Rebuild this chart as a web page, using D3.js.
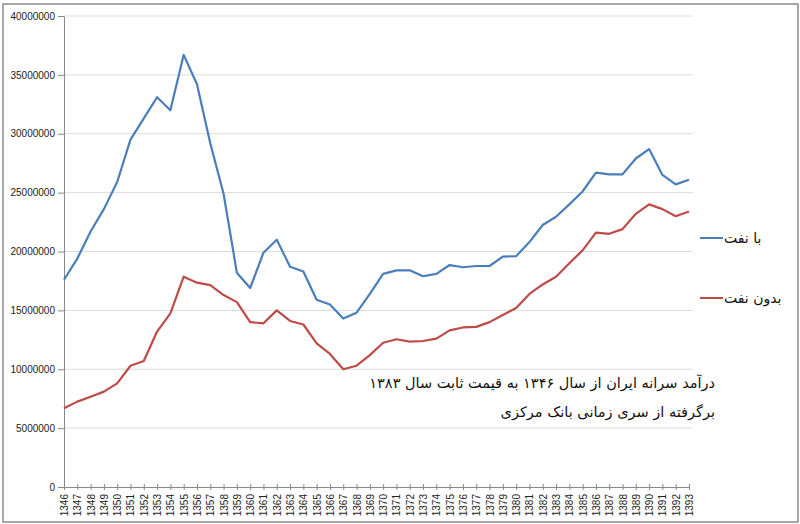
<!DOCTYPE html>
<html>
<head>
<meta charset="utf-8">
<script src="https://cdn.jsdelivr.net/npm/d3@7"></script>
<style>
    body { margin: 0; background: #fff; }
    #chart { width: 800px; height: 524px; }
    .axis text { font-family: "Liberation Sans", Arial, sans-serif; font-size: 10px; fill: #222; }
    .axis path, .axis line { stroke: #888; }
    .grid line { stroke: #dcdcdc; }
    .fa { font-family: "DejaVu Sans", sans-serif; fill: #111; }
</style>
</head>
<body>
<div id="chart"></div>
<script>

// years (solar hijri) on the x axis
let years = d3.range(1346, 1394).map(String);

// per capita income, with oil
let withOil = [
    17600000, 19400000, 21700000, 23600000, 25900000, 29500000, 31300000, 33100000, 32000000, 36700000,
    34200000, 29200000, 24900000, 18200000, 16900000, 19900000, 21000000, 18700000, 18300000, 15900000,
    15500000, 14300000, 14800000, 16400000, 18100000, 18400000, 18400000, 17900000, 18100000, 18850000,
    18660000, 18770000, 18770000, 19560000, 19600000, 20800000, 22250000, 22950000, 24000000, 25100000,
    26700000, 26550000, 26550000, 27900000, 28700000, 26500000, 25700000, 26100000
];

// per capita income, without oil
let withoutOil = [
    6680000, 7250000, 7670000, 8100000, 8800000, 10300000, 10700000, 13200000, 14750000, 17860000,
    17350000, 17150000, 16300000, 15700000, 14000000, 13900000, 15000000, 14100000, 13800000, 12200000,
    11300000, 10000000, 10300000, 11200000, 12250000, 12550000, 12350000, 12400000, 12600000, 13300000,
    13550000, 13600000, 14000000, 14600000, 15200000, 16400000, 17200000, 17860000, 19000000, 20100000,
    21600000, 21500000, 21900000, 23200000, 24000000, 23600000, 23000000, 23400000
];

let yTicks = [0, 5000000, 10000000, 15000000, 20000000, 25000000, 30000000, 35000000, 40000000];

let seriesNames = ["با نفت", "بدون نفت"];
let seriesColors = ["#4a7ebb", "#be4b48"];

let noteLines = [
    "درآمد سرانه ایران از سال ۱۳۴۶ به قیمت ثابت سال ۱۳۸۳",
    "برگرفته از سری زمانی بانک مرکزی"
];

let margin = {top: 16, right: 111, bottom: 37, left: 64};
let width = 800 - margin.left - margin.right;
let height = 524 - margin.top - margin.bottom;

let root = d3.select("#chart").append("svg")
    .attr("width", 800)
    .attr("height", 524);

// outer frame
root.append("rect")
    .attr("x", 3).attr("y", 4)
    .attr("width", 795).attr("height", 518)
    .attr("fill", "#fff")
    .attr("stroke", "#8c8c8c")
    .attr("stroke-width", 1.5);

let svg = root.append("g")
    .attr("transform", `translate(${margin.left}, ${margin.top})`);

let x = d3.scalePoint()
    .domain(years)
    .range([0, width]);

let y = d3.scaleLinear()
    .domain([0, 40000000])
    .range([height, 0]);

// horizontal gridlines
svg.append("g")
    .attr("class", "grid")
    .selectAll("line")
    .data(yTicks.slice(1))
    .join("line")
    .attr("x1", 0)
    .attr("x2", width + 4)
    .attr("y1", d => y(d))
    .attr("y2", d => y(d));

// y axis
let yAxis = d3.axisLeft(y)
    .tickValues(yTicks)
    .tickFormat(d3.format("d"))
    .tickSize(6)
    .tickSizeOuter(0)
    .tickPadding(3);

svg.append("g")
    .attr("class", "y-axis axis")
    .call(yAxis);

// x axis, cross ticks
let xAxis = d3.axisBottom(x)
    .tickSize(3)
    .tickSizeOuter(0)
    .tickPadding(4);

let xg = svg.append("g")
    .attr("class", "x-axis axis")
    .attr("transform", `translate(0, ${height})`)
    .call(xAxis);

xg.selectAll(".tick line").attr("y1", -3);

xg.selectAll(".tick text")
    .attr("transform", "rotate(-90)")
    .attr("x", -7)
    .attr("y", 0)
    .attr("dy", "0.35em")
    .attr("text-anchor", "end");

// lines
let line = d3.line()
    .x((d, i) => x(years[i]))
    .y(d => y(d));

[withOil, withoutOil].forEach((values, k) => {
    svg.append("path")
        .datum(values)
        .attr("fill", "none")
        .attr("stroke", seriesColors[k])
        .attr("stroke-width", 2.2)
        .attr("stroke-linejoin", "round")
        .attr("d", line);
});

// legend
let legend = root.append("g")
    .selectAll("g")
    .data(seriesNames)
    .join("g")
    .attr("transform", (d, i) => `translate(700, ${238 + i * 60})`);

legend.append("line")
    .attr("x1", 0).attr("x2", 23)
    .attr("stroke", (d, i) => seriesColors[i])
    .attr("stroke-width", 2);

legend.append("text")
    .attr("class", "fa")
    .attr("x", 24)
    .attr("dy", "0.35em")
    .attr("direction", "rtl")
    .attr("text-anchor", "end")
    .style("font-size", "14px")
    .text(d => d);

// note
root.append("g")
    .selectAll("text")
    .data(noteLines)
    .join("text")
    .attr("class", "fa")
    .attr("x", 715)
    .attr("y", (d, i) => 383 + i * 29)
    .attr("dy", "0.35em")
    .attr("direction", "rtl")
    .attr("text-anchor", "start")
    .style("font-size", "14.5px")
    .text(d => d);

</script>
</body>
</html>
